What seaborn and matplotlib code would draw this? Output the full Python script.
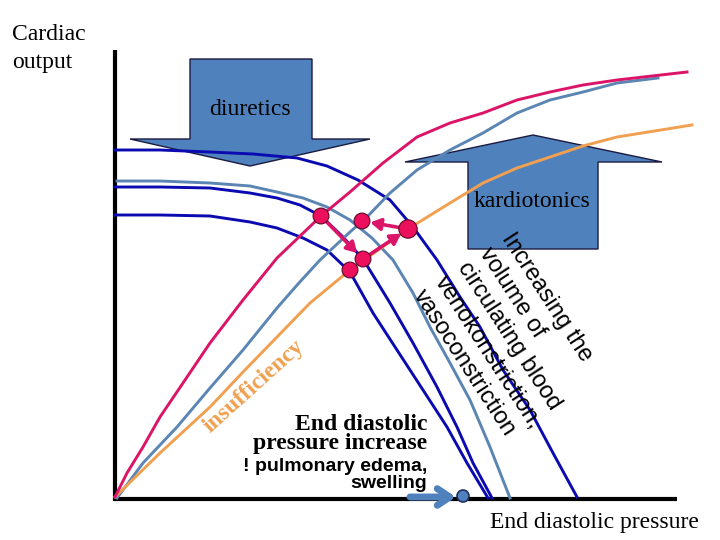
import matplotlib
matplotlib.use("Agg")
import matplotlib.pyplot as plt
from matplotlib.patches import Polygon, Circle
import seaborn as sns
import pandas as pd

# ---- data (pixel-space diagram coordinates) ----
# rising (cardiac function) curves
magenta_x = [115, 127, 143, 160, 183, 210, 243, 277, 321, 350, 383, 417, 450, 483, 517, 550, 583, 617, 687]
magenta_y = [497, 473, 447, 417, 383, 343, 300, 258, 216, 192, 163, 137, 123, 113, 100, 92, 85, 80, 72]
steel_up_x = [117, 143, 177, 210, 243, 277, 298, 320, 350, 367, 390, 417, 450, 483, 517, 550, 583, 617, 658]
steel_up_y = [498, 463, 427, 388, 350, 308, 284, 260, 232, 217, 193, 170, 150, 133, 113, 100, 92, 83, 78]
orange_x = [115, 160, 210, 243, 277, 310, 350, 408, 450, 483, 517, 550, 583, 617, 692]
orange_y = [497, 453, 407, 372, 337, 303, 270, 229, 203, 183, 168, 157, 146, 137, 125]
# falling (venous return) curves
blue1_x = [115, 160, 210, 253, 297, 327, 358, 390, 413, 437, 460, 480, 503, 530, 553, 577]
blue1_y = [150, 150, 152, 154, 158, 166, 180, 200, 227, 260, 297, 327, 370, 410, 453, 497]
steel_dn_x = [117, 160, 210, 250, 277, 303, 327, 350, 372, 393, 413, 430, 450, 470, 490, 510]
steel_dn_y = [181, 181, 183, 186, 192, 198, 207, 220, 238, 260, 293, 327, 363, 400, 447, 498]
blue2_x = [115, 160, 210, 250, 277, 300, 321, 342, 363, 390, 413, 437, 457, 473, 492]
blue2_y = [187, 187, 188, 193, 198, 205, 216, 236, 259, 303, 343, 387, 427, 463, 498]
blue3_x = [115, 160, 210, 250, 277, 303, 327, 350, 373, 397, 423, 447, 467, 488]
blue3_y = [215, 215, 216, 222, 228, 238, 250, 272, 313, 350, 390, 427, 463, 498]
# operating points
dots_x = [321, 362, 408, 363, 350]
dots_y = [216, 221, 229, 259, 270]
dots_s = [130, 130, 175, 130, 130]

BLUE = "#0a0ab0"
STEEL = "#5b85b3"
MAGENTA = "#dc1468"
ORANGE = "#f0a050"
ARROW = "#4f81bd"
DOT = "#ec0f5c"

fig = plt.figure(figsize=(7.2, 5.4), dpi=100)
ax = fig.add_axes([0, 0, 1, 1])

# big arrows
diur = Polygon([(190, 59), (312, 59), (312, 139), (370, 139), (250, 166),
                (130, 139), (190, 139)], closed=True, fc=ARROW, ec="#1a1a40", lw=1, zorder=1)
kard = Polygon([(468, 249), (598, 249), (598, 162), (662, 162), (533, 135),
                (405, 162), (468, 162)], closed=True, fc=ARROW, ec="#1a1a40", lw=1, zorder=1)
ax.add_patch(diur)
ax.add_patch(kard)

# axes of the diagram
ax.plot([115, 115], [50, 501], color="black", lw=3, zorder=2, solid_capstyle="butt")
ax.plot([114, 677], [499, 499], color="black", lw=3, zorder=2, solid_capstyle="butt")

curves = [
    (blue1_x, blue1_y, BLUE),
    (steel_dn_x, steel_dn_y, STEEL),
    (blue2_x, blue2_y, BLUE),
    (blue3_x, blue3_y, BLUE),
    (steel_up_x, steel_up_y, STEEL),
    (orange_x, orange_y, ORANGE),
    (magenta_x, magenta_y, MAGENTA),
]
for xs, ys, c in curves:
    df = pd.DataFrame({"x": xs, "y": ys})
    sns.lineplot(data=df, x="x", y="y", ax=ax, color=c, lw=2.1, sort=False,
                 estimator=None, zorder=3)

# arrows between operating points
def conn(i, j):
    ax.annotate("", xy=(dots_x[j], dots_y[j]), xytext=(dots_x[i], dots_y[i]),
                arrowprops=dict(arrowstyle="-|>,head_length=0.6,head_width=0.35",
                                color=MAGENTA, lw=2.6, shrinkA=5, shrinkB=6),
                zorder=4)

conn(0, 3)
conn(3, 2)
conn(2, 1)

sns.scatterplot(x=dots_x, y=dots_y, s=dots_s, color=DOT, edgecolor="#5a0a28",
                linewidth=0.8, ax=ax, zorder=5, legend=False)

ax.set_xlim(0, 720)
ax.set_ylim(540, 0)
ax.axis("off")

serif = "Liberation Serif"
sans = "Liberation Sans"

ax.text(12, 40, "Cardiac", family=serif, fontsize=17, va="baseline", ha="left")
ax.text(12, 68, "output", family=serif, fontsize=17, va="baseline", ha="left")
ax.text(250, 115, "diuretics", family=serif, fontsize=17, va="baseline", ha="center", zorder=6)
ax.text(532, 207, "kardiotonics", family=serif, fontsize=17, va="baseline", ha="center", zorder=6)
ax.text(490, 528, "End diastolic pressure", family=serif, fontsize=17, va="baseline", ha="left")

ax.text(515, 229, "Increasing the\nvolume of\ncirculating blood\nvenokonstriction,\nvasoconstriction",
        family=sans, fontsize=17, rotation=-57, rotation_mode="anchor",
        ha="left", va="top", multialignment="left", linespacing=1.25, zorder=6)

ax.text(254, 386, "insufficiency", family=serif, fontsize=17, fontweight="bold",
        color=ORANGE, rotation=42, rotation_mode="anchor", ha="center", va="center", zorder=6)

ax.text(427, 430, "End diastolic", family=serif, fontsize=17, fontweight="bold",
        ha="right", va="baseline", zorder=6)
ax.text(427, 449, "pressure increase", family=serif, fontsize=17, fontweight="bold",
        ha="right", va="baseline", zorder=6)
ax.text(427, 471, "! pulmonary edema,", family=sans, fontsize=14, fontweight="bold",
        ha="right", va="baseline", zorder=6)
ax.text(427, 488, "swelling", family=sans, fontsize=14, fontweight="bold",
        ha="right", va="baseline", zorder=6)

# small arrow at bottom
ax.annotate("", xy=(456, 497), xytext=(410, 497),
            arrowprops=dict(arrowstyle="->,head_length=0.9,head_width=0.6",
                            color=ARROW, lw=5, shrinkA=0, shrinkB=0), zorder=6)
ax.add_patch(Circle((463, 496), 6, fc=ARROW, ec="#1f2f60", lw=1.2, zorder=7))

fig.savefig("out.png", dpi=100)
